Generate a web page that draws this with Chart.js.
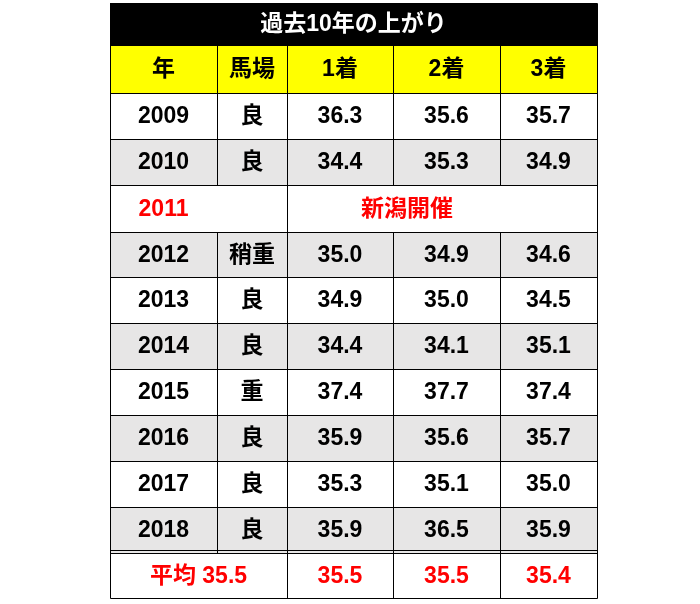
<!DOCTYPE html>
<html><head><meta charset="utf-8">
<script src="https://cdn.jsdelivr.net/npm/chart.js@4"></script>
<style>html,body{margin:0;padding:0;background:#fff}#c{display:block}</style>
</head><body>
<div style="width:700px;height:604px"><canvas id="c"></canvas></div>
<script>
const title = "過去10年の上がり";
const headers = ["年","馬場","1着","2着","3着"];
const years = ["2009","2010","2011","2012","2013","2014","2015","2016","2017","2018"];
const going = ["良","良","","稍重","良","良","重","良","良","良"];
const first = [36.3,34.4,null,35.0,34.9,34.4,37.4,35.9,35.3,35.9];
const second = [35.6,35.3,null,34.9,35.0,34.1,37.7,35.6,35.1,36.5];
const third = [35.7,34.9,null,34.6,34.5,35.1,37.4,35.7,35.0,35.9];
const averages = [35.5,35.5,35.5,35.4];
const note2011 = "新潟開催";

const colEdges = [110,217,287,393,500,597];
const rowEdges = [3,45,93,139,185,232,277,323,369,415,461,507,553,598];
const FONT = 'bold 23px "Liberation Sans","Noto Sans CJK JP",sans-serif';

const tablePlugin = {
  id:'table',
  afterDraw(chart){
    const {ctx, scales:{x,y}} = chart;
    const X = v=>x.getPixelForValue(v), Y = v=>y.getPixelForValue(v);
    const L=X(colEdges[0]), R=X(colEdges[5]);
    ctx.save();
    // title
    ctx.fillStyle='#000'; ctx.fillRect(L,Y(rowEdges[0]),R-L,Y(rowEdges[1])-Y(rowEdges[0]));
    ctx.fillStyle='#fff'; ctx.font=FONT; ctx.textAlign='center'; ctx.textBaseline='middle';
    ctx.fillText(title,(L+R)/2,(Y(rowEdges[0])+Y(rowEdges[1]))/2+1);
    // header
    ctx.fillStyle='#ffff00'; ctx.fillRect(L,Y(rowEdges[1]),R-L,Y(rowEdges[2])-Y(rowEdges[1]));
    const cellText=(c0,c1,r,t,col)=>{ctx.fillStyle=col;ctx.fillText(t,(X(colEdges[c0])+X(colEdges[c1]))/2,(Y(rowEdges[r])+Y(rowEdges[r+1]))/2+1);};
    headers.forEach((h,i)=>cellText(i,i+1,1,h,'#000'));
    // rows
    years.forEach((yr,i)=>{
      const r=i+2;
      if(i%2===1){ctx.fillStyle='#e7e6e6';ctx.fillRect(L,Y(rowEdges[r]),R-L,Y(rowEdges[r+1])-Y(rowEdges[r]));}
      if(first[i]===null){
        cellText(0,1,r,yr,'#ff0000'); cellText(1,5,r,note2011,'#ff0000');
      } else {
        cellText(0,1,r,yr,'#000'); cellText(1,2,r,going[i],'#000');
        cellText(2,3,r,first[i].toFixed(1),'#000');
        cellText(3,4,r,second[i].toFixed(1),'#000');
        cellText(4,5,r,third[i].toFixed(1),'#000');
      }
    });
    const ar=12;
    cellText(0,2,ar,"平均 "+averages[0].toFixed(1),'#ff0000');
    cellText(2,3,ar,averages[1].toFixed(1),'#ff0000');
    cellText(3,4,ar,averages[2].toFixed(1),'#ff0000');
    cellText(4,5,ar,averages[3].toFixed(1),'#ff0000');
    // grid
    ctx.strokeStyle='#000'; ctx.lineWidth=1;
    const line=(x1,y1,x2,y2)=>{ctx.beginPath();ctx.moveTo(Math.round(x1)+0.5,Math.round(y1)+0.5);ctx.lineTo(Math.round(x2)+0.5,Math.round(y2)+0.5);ctx.stroke();};
    for(let r=1;r<rowEdges.length;r++) line(L,Y(rowEdges[r]),R,Y(rowEdges[r]));
    line(L,Y(rowEdges[12])-3,R,Y(rowEdges[12])-3);
    line(L,Y(rowEdges[0]),R,Y(rowEdges[0]));
    const bot=Y(rowEdges[13]), top1=Y(rowEdges[1]);
    line(L,Y(rowEdges[0]),L,bot); line(R,Y(rowEdges[0]),R,bot);
    for(let c=1;c<5;c++){
      if(c===1){ line(X(colEdges[c]),top1,X(colEdges[c]),Y(rowEdges[4])); line(X(colEdges[c]),Y(rowEdges[5]),X(colEdges[c]),Y(rowEdges[12])); }
      else line(X(colEdges[c]),top1,X(colEdges[c]),c===2?bot:(c>2?Y(rowEdges[4]):bot));
      if(c>2){ line(X(colEdges[c]),Y(rowEdges[5]),X(colEdges[c]),bot); }
    }
    ctx.restore();
  }
};

new Chart(document.getElementById('c'),{
  type:'scatter',
  data:{datasets:[{data:[]}]},
  options:{
    responsive:true, maintainAspectRatio:false, animation:false,
    layout:{padding:0},
    plugins:{legend:{display:false},tooltip:{enabled:false}},
    scales:{
      x:{type:'linear',min:0,max:700,display:false},
      y:{type:'linear',min:0,max:604,reverse:true,display:false}
    }
  },
  plugins:[tablePlugin]
});
</script>
</body></html>
